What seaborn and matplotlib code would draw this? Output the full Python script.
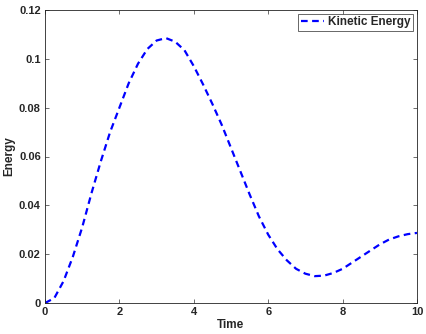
import numpy as np
import pandas as pd
import matplotlib
matplotlib.use("Agg")
import matplotlib.pyplot as plt
import seaborn as sns

# values
time = [0, 0.25, 0.5, 0.75, 1.0, 1.25, 1.5, 1.75, 2.0, 2.25, 2.5, 2.75,
        3.0, 3.25, 3.5, 3.75, 4.0, 4.25, 4.5, 4.75, 5.0, 5.25, 5.5, 5.75,
        6.0, 6.25, 6.5, 6.75, 7.0, 7.25, 7.5, 7.75, 8.0, 8.25, 8.5, 8.75,
        9.0, 9.25, 9.5, 9.75, 10.0]
kinetic = [0.0, 0.002, 0.009, 0.019, 0.031, 0.045, 0.058, 0.070, 0.080, 0.090,
           0.098, 0.104, 0.1075, 0.1085, 0.107, 0.1035, 0.097, 0.0895, 0.0815,
           0.073, 0.0635, 0.054, 0.0445, 0.0355, 0.028, 0.022, 0.0175, 0.014,
           0.012, 0.011, 0.0112, 0.0123, 0.014, 0.0165, 0.019, 0.0215, 0.024,
           0.026, 0.0273, 0.0282, 0.0287]
xticks = [0, 2, 4, 6, 8, 10]
yticks = [0, 0.02, 0.04, 0.06, 0.08, 0.1, 0.12]
yticklabels = ["0", "0.02", "0.04", "0.06", "0.08", "0.1", "0.12"]

df = pd.DataFrame({"Time": time, "Energy": kinetic})

sns.set_style("ticks")
plt.rcParams["font.family"] = ["Liberation Sans", "DejaVu Sans"]
plt.rcParams["font.weight"] = "bold"
plt.rcParams["axes.labelweight"] = "bold"
plt.rcParams["xtick.direction"] = "in"
plt.rcParams["ytick.direction"] = "in"

fig = plt.figure(figsize=(4.27, 3.34), dpi=100)
ax = fig.add_axes([45 / 427, 31 / 334, 372 / 427, 293 / 334])

sns.lineplot(data=df, x="Time", y="Energy", ax=ax, color="#0000ff",
             linewidth=1.6, dashes=False, label="Kinetic Energy")
ax.lines[0].set_dashes((3, 2))

ax.set_xlim(0, 10)
ax.set_ylim(0, 0.12)
ax.set_xticks(xticks)
ax.set_xticklabels([str(v) for v in xticks])
ax.set_yticks(yticks)
ax.set_yticklabels(yticklabels)
ax.tick_params(axis="both", labelsize=8, length=3, width=0.5, color="#333333",
               top=True, right=True, pad=3)
for s in ax.spines.values():
    s.set_linewidth(0.6)
    s.set_color("#222222")
    s.set_visible(True)
ax.set_xlabel("Time", fontsize=8.5, labelpad=1)
ax.set_ylabel("Energy", fontsize=8.5, labelpad=3)

leg = ax.legend(loc="upper right", fontsize=8.5, frameon=True, fancybox=False,
                handlelength=2.0, handletextpad=0.3, borderpad=0.25,
                borderaxespad=0.3)
leg.get_frame().set_edgecolor("#222222")
leg.get_frame().set_linewidth(0.6)

fig.savefig("out.png", dpi=100)
